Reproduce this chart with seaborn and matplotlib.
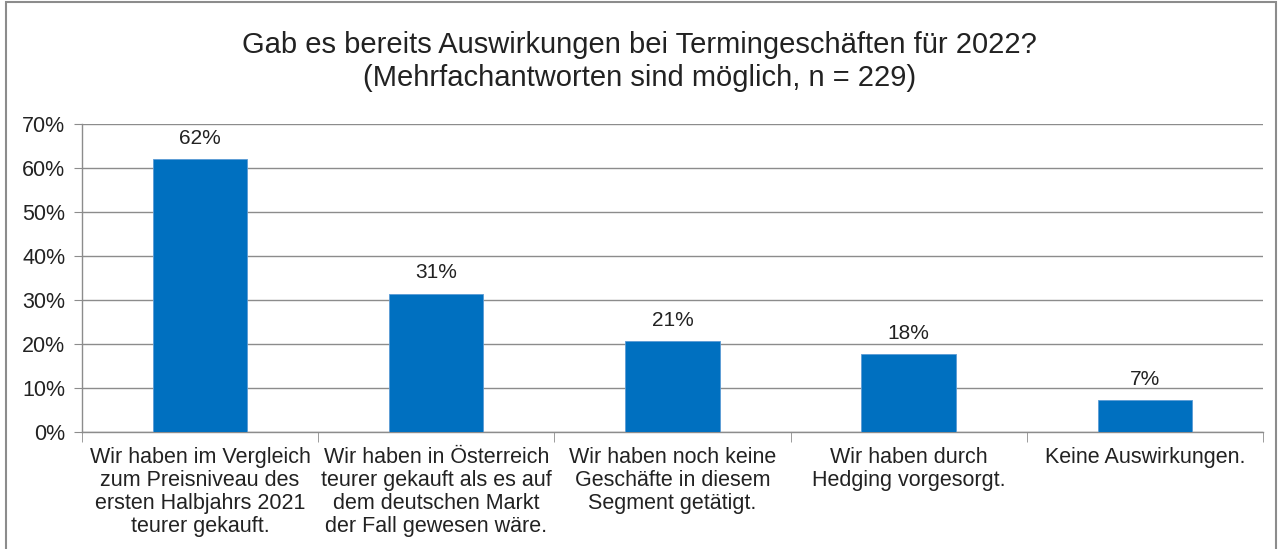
import matplotlib
matplotlib.use("Agg")
import matplotlib.pyplot as plt
import matplotlib.patches as mpatches
from matplotlib.ticker import FixedLocator, PercentFormatter
import pandas as pd
import seaborn as sns

# Data
categories = [
    "Wir haben im Vergleich\nzum Preisniveau des\nersten Halbjahrs 2021\nteurer gekauft.",
    "Wir haben in Österreich\nteurer gekauft als es auf\ndem deutschen Markt\nder Fall gewesen wäre.",
    "Wir haben noch keine\nGeschäfte in diesem\nSegment getätigt.",
    "Wir haben durch\nHedging vorgesorgt.",
    "Keine Auswirkungen.",
]
shares = [62, 31.4, 20.7, 17.7, 7.2]
value_labels = ["62%", "31%", "21%", "18%", "7%"]

df = pd.DataFrame({"Antwort": categories, "Anteil": shares})

sns.set_style("white")
plt.rcParams["font.family"] = ["Liberation Sans", "DejaVu Sans"]

fig = plt.figure(figsize=(12.79, 5.49), dpi=100)
ax = fig.add_axes([0.064, 0.213, 0.9235, 0.561])

sns.barplot(data=df, x="Antwort", y="Anteil", color="#0070C0", width=0.4,
            saturation=1, edgecolor="#5b9bd5", linewidth=0.6, ax=ax, zorder=3)

for i, (v, lab) in enumerate(zip(shares, value_labels)):
    ax.text(i, v + 2.6, lab, ha="center", va="bottom", fontsize=15, color="#222222")

ax.set_ylim(0, 70)
ax.set_xlim(-0.5, 4.5)
ax.set_yticks(range(0, 71, 10))
ax.yaxis.set_major_formatter(PercentFormatter(decimals=0))
ax.grid(axis="y", color="#8c8c8c", linewidth=1, zorder=0)
ax.set_xlabel("")
ax.set_ylabel("")

for s in ["top", "right"]:
    ax.spines[s].set_visible(False)
for s in ["left", "bottom"]:
    ax.spines[s].set_color("#8c8c8c")
    ax.spines[s].set_linewidth(1)

ax.tick_params(axis="y", direction="out", length=6, color="#8c8c8c",
               labelsize=15.5, labelcolor="#222222", left=True, pad=6)
ax.tick_params(axis="x", which="major", length=0, labelsize=15.5,
               labelcolor="#222222", pad=11)
ax.xaxis.set_minor_locator(FixedLocator([-0.5, 0.5, 1.5, 2.5, 3.5, 4.5]))
ax.tick_params(axis="x", which="minor", direction="out", length=7,
               color="#8c8c8c", bottom=True)
for t in ax.get_xticklabels():
    t.set_ha("center")
    t.set_multialignment("center")
    t.set_linespacing(1.12)

fig.text(0.5, 0.888, "Gab es bereits Auswirkungen bei Termingeschäften für 2022?\n"
         "(Mehrfachantworten sind möglich, n = 229)",
         ha="center", va="center", fontsize=21, color="#222222", linespacing=1.22)

fig.patches.append(mpatches.Rectangle((0.005, -0.01), 0.993, 1.006,
                                      transform=fig.transFigure, fill=False,
                                      edgecolor="#8c8c8c", linewidth=1.5))

fig.savefig("out.png", dpi=100)
